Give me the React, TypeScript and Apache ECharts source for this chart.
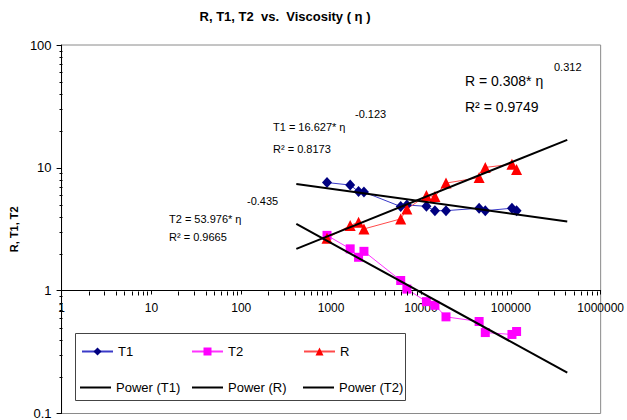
import React, { useEffect, useRef } from "react";
import * as echarts from "echarts";

// ---- data ----
const viscosity = [900, 1630, 2020, 2320, 5950, 6970, 11500, 14300, 19000, 44400, 52000, 103000, 116000];
const t1Values = [7.59, 7.24, 6.41, 6.35, 4.84, 4.98, 4.86, 4.48, 4.48, 4.69, 4.48, 4.69, 4.48];
const t2Values = [2.82, 2.19, 1.87, 2.09, 1.21, 1.03, 0.814, 0.76, 0.612, 0.561, 0.456, 0.44, 0.465];
const rValues = [2.67, 3.4, 3.61, 3.18, 3.84, 4.62, 5.95, 5.84, 7.51, 8.33, 10.08, 10.7, 9.67];

// power trend lines (end points)
const trendX = [410, 425000];
const trendT1 = [7.38, 3.66];
const trendR = [2.19, 16.9];
const trendT2 = [3.49, 0.215];

// axis structure
const xDecades = [1, 10, 100, 1000, 10000, 100000];
const yDecades = [0.1, 1, 10];
const minorSteps = [2, 3, 4, 5, 6, 7, 8, 9];

const seriesNames = ["T1", "T2", "R", "Power (T1)", "Power (R)", "Power (T2)"];

const FONT = "Liberation Sans, Arial, sans-serif";

function pairs(xs: number[], ys: number[]) {
  return xs.map((x, i) => [x, ys[i]]);
}

function fmt(v: number) {
  return String(+Number(v).toPrecision(6));
}

export default function App() {
  const ref = useRef<HTMLDivElement>(null);

  useEffect(() => {
    document.body.style.margin = "0";
    if (!ref.current) return;
    const chart = echarts.init(ref.current, undefined, { renderer: "svg" });

    const xMinor: number[][] = [];
    xDecades.forEach((d) => minorSteps.forEach((m) => xMinor.push([d * m, 1])));
    const yMinor: number[][] = [];
    yDecades.forEach((d) => minorSteps.forEach((m) => yMinor.push([1, +(d * m).toPrecision(6)])));

    const tickSeries = (data: number[][], dir: "x" | "y", len: number) => ({
      type: "custom",
      silent: true,
      clip: false,
      z: 5,
      data,
      renderItem: (_p: any, api: any) => {
        const p = api.coord([api.value(0), api.value(1)]);
        const x = Math.round(p[0]) + 0.5;
        const y = Math.round(p[1]) + 0.5;
        return dir === "x"
          ? { type: "line", shape: { x1: x, y1: y, x2: x, y2: y + len }, style: { stroke: "#000", lineWidth: 1 } }
          : { type: "line", shape: { x1: x - len, y1: y, x2: x, y2: y }, style: { stroke: "#000", lineWidth: 1 } };
      },
    });

    const legendPos = [
      { left: 81, top: 345 },
      { left: 191, top: 345 },
      { left: 303, top: 345 },
      { left: 80, top: 381 },
      { left: 192, top: 381 },
      { left: 303, top: 381 },
    ];

    const txt = (text: string, x: number, y: number, size: number, extra: any = {}) => ({
      type: "text",
      x,
      y,
      style: {
        text,
        fill: "#000",
        font: `${extra.weight || "normal"} ${size}px ${FONT}`,
        textAlign: extra.align || "left",
        textVerticalAlign: "middle",
        verticalAlign: "middle",
      },
      z: 20,
    });

    chart.setOption({
      animation: false,
      backgroundColor: "#fff",
      textStyle: { fontFamily: FONT },
      grid: {
        left: 51,
        top: 45,
        width: 550,
        height: 370,
        show: true,
        borderColor: "#8a8a8a",
        borderWidth: 1,
        backgroundColor: "transparent",
      },
      xAxis: {
        type: "log",
        logBase: 10,
        min: 1,
        max: 1000000,
        position: "bottom",
        offset: -123,
        axisLine: { show: true, lineStyle: { color: "#000", width: 1 } },
        axisTick: { show: true, inside: false, length: 4, lineStyle: { color: "#000" } },
        splitLine: { show: false },
        axisLabel: { color: "#000", fontSize: 12, margin: 11, fontFamily: FONT, formatter: (v: number) => fmt(v) },
      },
      yAxis: {
        type: "log",
        logBase: 10,
        min: 0.1,
        max: 100,
        name: "R, T1, T2",
        nameLocation: "middle",
        nameRotate: 90,
        nameGap: 29,
        nameTextStyle: { color: "#000", fontSize: 11, fontWeight: "bold", fontFamily: FONT },
        axisLine: { show: true, lineStyle: { color: "#000", width: 1 } },
        axisTick: { show: true, inside: false, length: 5, lineStyle: { color: "#000" } },
        splitLine: { show: false },
        axisLabel: { color: "#000", fontSize: 13, margin: 10, fontFamily: FONT, formatter: (v: number) => fmt(v) },
      },
      legend: seriesNames.map((n, i) => ({
        data: i < 3 ? [n] : [{ name: n, icon: "rect" }],
        left: legendPos[i].left,
        top: legendPos[i].top,
        padding: 0,
        itemWidth: 31,
        itemHeight: i < 3 ? 10 : 2,
        selectedMode: false,
        textStyle: { color: "#000", fontSize: 13, fontFamily: FONT },
      })),
      graphic: [
        {
          type: "rect",
          shape: { x: 75.5, y: 333.5, width: 330, height: 67 },
          style: { fill: "#fff", stroke: "#444", lineWidth: 1 },
          z: 0,
          zlevel: 0,
          silent: true,
        },
        txt("R, T1, T2  vs.  Viscosity ( η )", 285, 16, 13, { weight: "bold", align: "center" }),
        txt("R = 0.308* η", 465, 81, 14),
        txt("0.312", 554, 67, 11),
        txt("R² = 0.9749", 465, 107, 14),
        txt("T1 = 16.627* η", 273, 127, 11),
        txt("-0.123", 355, 114, 11),
        txt("R² = 0.8173", 273, 149, 11),
        txt("T2 = 53.976* η", 169, 219, 11),
        txt("-0.435", 247, 201, 11),
        txt("R² = 0.9665", 169, 237, 11),
      ],
      series: [
        tickSeries(xMinor, "x", 4),
        tickSeries(yMinor, "y", 3),
        {
          name: "T1",
          type: "line",
          data: pairs(viscosity, t1Values),
          symbol: "diamond",
          symbolSize: [10, 11],
          lineStyle: { color: "#3a3ac8", width: 1 },
          itemStyle: { color: "#000080" },
          z: 3,
        },
        {
          name: "T2",
          type: "line",
          data: pairs(viscosity, t2Values),
          symbol: "rect",
          symbolSize: 9,
          lineStyle: { color: "#ff33ff", width: 1 },
          itemStyle: { color: "#ff00ff" },
          z: 3,
        },
        {
          name: "R",
          type: "line",
          data: pairs(viscosity, rValues),
          symbol: "triangle",
          symbolSize: 11,
          lineStyle: { color: "#ff4a4a", width: 1 },
          itemStyle: { color: "#ff0000" },
          z: 3,
        },
        {
          name: "Power (T1)",
          type: "line",
          data: pairs(trendX, trendT1),
          symbol: "none",
          lineStyle: { color: "#000", width: 2 },
          itemStyle: { color: "#000" },
          z: 4,
        },
        {
          name: "Power (R)",
          type: "line",
          data: pairs(trendX, trendR),
          symbol: "none",
          lineStyle: { color: "#000", width: 2 },
          itemStyle: { color: "#000" },
          z: 4,
        },
        {
          name: "Power (T2)",
          type: "line",
          data: pairs(trendX, trendT2),
          symbol: "none",
          lineStyle: { color: "#000", width: 2 },
          itemStyle: { color: "#000" },
          z: 4,
        },
      ],
    });

    return () => chart.dispose();
  }, []);

  return <div ref={ref} style={{ width: 627, height: 420 }} />;
}
